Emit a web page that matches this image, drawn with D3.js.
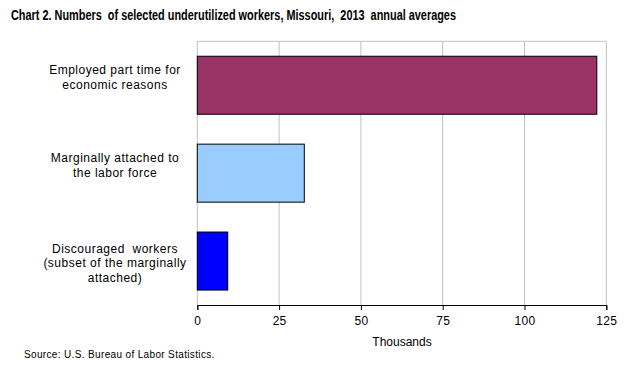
<!DOCTYPE html>
<html>
<head>
<meta charset="utf-8">
<script src="https://cdn.jsdelivr.net/npm/d3@7"></script>
<style>
  body { margin: 0; background: #fff; }
  text { font-family: "Liberation Sans", Arial, sans-serif; fill: #000; }
</style>
</head>
<body>
<div id="chart"></div>
<script>
const categories = [
    ["Employed part time for", "economic reasons"],
    ["Marginally attached to", "the labor force"],
    ["Discouraged  workers", "(subset of the marginally", "attached)"]
];
const values = [122.1, 32.7, 9.3];
const barColors = ["#993366", "#99ccff", "#0000ff"];
const xTicks = [0, 25, 50, 75, 100, 125];

const width = 626, height = 365;
const plot = {left: 197.3, right: 606.3, top: 41.3, bottom: 305};

const svg = d3.select("#chart")
    .append("svg")
    .attr("width", width)
    .attr("height", height);

//title (narrow bold in the original)
svg.append("text")
    .attr("x", 11)
    .attr("y", 20)
    .attr("font-size", "14.5px")
    .attr("font-weight", "bold")
    .attr("textLength", 445)
    .attr("lengthAdjust", "spacingAndGlyphs")
    .style("white-space", "pre")
    .text("Chart 2. Numbers  of selected underutilized workers, Missouri,  2013  annual averages");

const xScale = d3.scaleLinear()
    .domain([0, 125])
    .range([plot.left, plot.right]);

const yScale = d3.scaleBand()
    .domain(d3.range(categories.length))
    .range([plot.top, plot.bottom])
    .paddingInner(0.34)
    .paddingOuter(0.17);

//gridlines
svg.append("g")
    .selectAll("line")
    .data(xTicks)
    .enter()
    .append("line")
    .attr("x1", d => xScale(d))
    .attr("x2", d => xScale(d))
    .attr("y1", plot.top)
    .attr("y2", plot.bottom)
    .attr("stroke", "#c0c0c0")
    .attr("stroke-width", 1);

//top border
svg.append("line")
    .attr("x1", plot.left)
    .attr("x2", plot.right)
    .attr("y1", plot.top)
    .attr("y2", plot.top)
    .attr("stroke", "#c0c0c0");

//bars
svg.append("g")
    .selectAll("rect")
    .data(values)
    .enter()
    .append("rect")
    .attr("x", xScale(0))
    .attr("y", (d, i) => yScale(i))
    .attr("width", d => xScale(d) - xScale(0))
    .attr("height", yScale.bandwidth())
    .attr("fill", (d, i) => barColors[i])
    .attr("stroke", "#000")
    .attr("stroke-width", 1);

//x axis
const xAxis = svg.append("g")
    .attr("transform", `translate(0,${plot.bottom})`)
    .call(d3.axisBottom(xScale).tickValues(xTicks).tickSize(5).tickPadding(6));
xAxis.select(".domain").attr("stroke", "#000");
xAxis.selectAll("line").attr("stroke", "#000");
xAxis.selectAll("text")
    .attr("font-size", "12px")
    .attr("font-family", "Liberation Sans, Arial, sans-serif")
    .attr("letter-spacing", "0.3px")
    .attr("fill", "#000");

//category labels
const labels = svg.append("g")
    .selectAll("text")
    .data(categories)
    .enter()
    .append("text")
    .attr("text-anchor", "middle")
    .attr("font-size", "12px")
    .attr("letter-spacing", "0.5px")
    .attr("y", (d, i) => yScale(i) + yScale.bandwidth() / 2 - 11 + (d.length - 2) * 2.5)
    .style("white-space", "pre");

labels.selectAll("tspan")
    .data(d => d)
    .enter()
    .append("tspan")
    .attr("x", 115)
    .attr("dy", (d, i) => i === 0 ? 0 : 14.8)
    .text(d => d);

//axis title
svg.append("text")
    .attr("x", 402)
    .attr("y", 346)
    .attr("text-anchor", "middle")
    .attr("font-size", "12px")
    .text("Thousands");

//source
svg.append("text")
    .attr("x", 24)
    .attr("y", 358)
    .attr("font-size", "10px")
    .attr("letter-spacing", "0.35px")
    .text("Source: U.S. Bureau of Labor Statistics.");
</script>
</body>
</html>
